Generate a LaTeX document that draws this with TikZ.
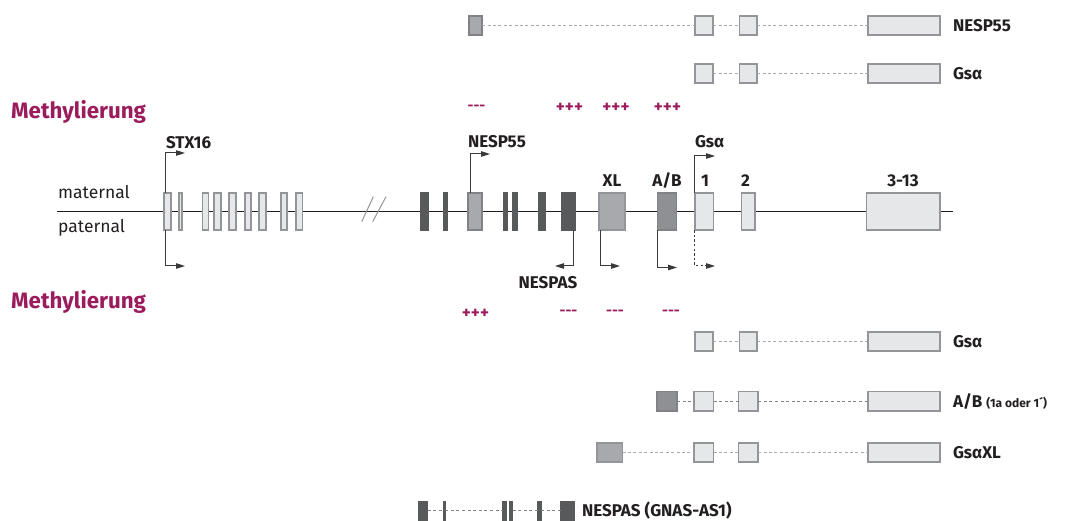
\documentclass[tikz,border=0pt]{standalone}
\usepackage{fontspec}
\setmainfont{Fira Sans}
\usetikzlibrary{arrows.meta}
\definecolor{exlight}{HTML}{E6E7E8}
\definecolor{exedge}{HTML}{939598}
\definecolor{exmid}{HTML}{A7A9AC}
\definecolor{exmidedge}{HTML}{808285}
\definecolor{exab}{HTML}{8E9093}
\definecolor{exdark}{HTML}{58595B}
\definecolor{ink}{HTML}{231F20}
\definecolor{arrowink}{HTML}{3A3A3C}
\definecolor{meth}{HTML}{9B1C5C}
\definecolor{spliceA}{HTML}{A7A9AC}
\definecolor{spliceB}{HTML}{808285}
% exon box: style, name, left edge, right edge, centre y, height (outer edges)
\newcommand\exon[6]{\node[#1,minimum width={#4-#3-1.6},minimum height={#6-1.6}] (#2) at ({(#3+#4)/2},#5) {};}
\begin{document}
\begin{tikzpicture}[x=1pt,y=-1pt,
  exonbase/.style={inner sep=0pt,outer sep=0pt,line width=1.6pt},
  light/.style={exonbase,fill=exlight,draw=exedge},
  mid/.style={exonbase,fill=exmid,draw=exedge},
  midd/.style={exonbase,fill=exmid,draw=exmidedge},
  abx/.style={exonbase,fill=exab,draw=exmidedge},
  dark/.style={exonbase,fill=exdark,draw=exdark},
  mainline/.style={draw=ink,line width=1.4pt},
  prom/.style={draw=arrowink,line width=1pt,-{Triangle[length=9pt,width=5.5pt]}},
  promdot/.style={prom,dash pattern=on 2.4pt off 2.2pt},
  splice/.style={draw=spliceA,line width=1pt,dash pattern=on 3pt off 2.4pt},
  splicedark/.style={draw=spliceB,line width=0.9pt,dash pattern=on 3pt off 2.6pt},
  lbl/.style={inner sep=0pt,outer sep=0pt,text=ink,font=\fontsize{17}{20}\selectfont\bfseries},
  strand/.style={inner sep=0pt,text=ink,font=\fontsize{17.5}{20}\selectfont},
  methhead/.style={inner sep=0pt,text=meth,font=\fontsize{22.3}{26}\selectfont\bfseries},
  methplus/.style={inner sep=0pt,text=meth,font=\fontsize{17}{18}\selectfont\bfseries},
  methminus/.style={inner sep=0pt,text=meth,font=\fontsize{14.5}{16}\selectfont\bfseries},
]
\useasboundingbox (0,0) rectangle (1066,521);

% ---------- mature transcripts, maternal allele ----------
\exon{midd}{a1}{468}{483}{25.5}{21}
\exon{light}{a2}{694}{714}{25.5}{21}
\exon{light}{a3}{738.6}{758}{25.5}{21}
\exon{light}{a4}{867}{941}{25.5}{21}
\draw[splice] (a1.east) -- (a2.west);
\draw[splice] (a2.east) -- (a3.west);
\draw[splice] (a3.east) -- (a4.west);
\node[lbl,anchor=base west] (ta) at (953,31.5) {NESP55};

\exon{light}{b2}{694}{714}{73.5}{21}
\exon{light}{b3}{738.6}{758}{73.5}{21}
\exon{light}{b4}{867}{941}{73.5}{21}
\draw[splice] (b2.east) -- (b3.west);
\draw[splice] (b3.east) -- (b4.west);
\node[lbl,anchor=base west] (tb) at (953,79.5) {Gsα};

% ---------- methylation, maternal ----------
\node[methhead,anchor=base west] (mh1) at (11,118.5) {Methylierung};
\node[methminus] (m1) at (476.5,108) {-{}-{}-};
\node[methplus] (m2) at (569.5,108) {+++};
\node[methplus] (m3) at (616,108) {+++};
\node[methplus] (m4) at (667.5,108) {+++};

% ---------- genomic locus ----------
\coordinate (L) at (57,211.5);
\coordinate (R) at (953,211.5);
\draw[mainline] (L) -- (R);
\draw[draw=exedge,line width=1pt] (361.7,221.7) -- (373.3,196.7);
\draw[draw=exedge,line width=1pt] (372.7,221.7) -- (386,196.7);

\node[strand,anchor=base west] (mat) at (58,199) {maternal};
\node[strand,anchor=base west] (pat) at (58,233) {paternal};

% STX16 exons
\exon{light}{s1}{163.3}{171.7}{211.5}{39}
\exon{light}{s2}{178.3}{183}{211.5}{39}
\exon{light}{s3}{201.7}{209.3}{211.5}{39}
\exon{light}{s4}{213.3}{221.7}{211.5}{39}
\exon{light}{s5}{228.3}{236.7}{211.5}{39}
\exon{light}{s6}{244}{251.7}{211.5}{39}
\exon{light}{s7}{258.3}{266.7}{211.5}{39}
\exon{light}{s8}{280}{287.7}{211.5}{39}
\exon{light}{s9}{295}{303.3}{211.5}{39}

% NESPAS exons and NESP55
\exon{dark}{d1}{420}{429}{211.5}{39}
\exon{dark}{d2}{442.7}{448.3}{211.5}{39}
\exon{midd}{n55}{467.3}{482.7}{211.5}{39}
\exon{dark}{d3}{503.3}{508.3}{211.5}{39}
\exon{dark}{d4}{512.3}{517.7}{211.5}{39}
\exon{dark}{d5}{538.3}{546.3}{211.5}{39}
\exon{dark}{d6}{561}{575.7}{211.5}{39}

% XL, A/B and GNAS exons
\exon{mid}{xl}{598.3}{626}{211.5}{39}
\exon{abx}{ab}{656.7}{677.3}{211.5}{39}
\exon{light}{e1}{694}{714.3}{211.5}{39}
\exon{light}{e2}{740.7}{756}{211.5}{39}
\exon{light}{e3}{865.7}{940.7}{211.5}{39}

\node[lbl,anchor=base] (lxl) at (612,186.5) {XL};
\node[lbl,anchor=base] (lab) at (667,186.5) {A/B};
\node[lbl,anchor=base] (l1) at (705,186.5) {1};
\node[lbl,anchor=base] (l2) at (745.5,186.5) {2};
\node[lbl,anchor=base] (l313) at (903,186.5) {3-13};

% promoters, maternal (above)
\coordinate (pSTXm) at (185,153);
\coordinate (pNESP) at (490,154);
\coordinate (pGSm) at (715,156);
\draw[prom] ([xshift=-1.8pt]s1.north) |- (pSTXm);
\draw[prom] ([xshift=-5pt]n55.north) |- (pNESP);
\draw[prom] ([xshift=-9.2pt]e1.north) |- (pGSm);
\node[lbl,anchor=base west] (lstx) at (166,148.3) {STX16};
\node[lbl,anchor=base west] (lnesp) at (468,147.3) {NESP55};
\node[lbl,anchor=base west] (lgs) at (695,148) {Gsα};

% promoters, paternal (below)
\coordinate (pSTXp) at (185,266);
\coordinate (pAS) at (555,266);
\coordinate (pXL) at (620,266);
\coordinate (pAB) at (677,267.5);
\coordinate (pGSp) at (715,266);
\draw[prom] ([xshift=-1.8pt]s1.south) |- (pSTXp);
\draw[prom] ([xshift=5.6pt]d6.south) |- (pAS);
\draw[prom] ([xshift=-11.5pt]xl.south) |- (pXL);
\draw[prom] ([xshift=-9.7pt]ab.south) |- (pAB);
\draw[promdot] ([xshift=-9.2pt]e1.south) |- (pGSp);
\node[lbl,anchor=base] (lnespas) at (548,288.5) {NESPAS};

% ---------- methylation, paternal ----------
\node[methhead,anchor=base west] (mh2) at (11,309) {Methylierung};
\node[methplus] (m5) at (475.5,313.5) {+++};
\node[methminus] (m6) at (568.5,313) {-{}-{}-};
\node[methminus] (m7) at (615,313) {-{}-{}-};
\node[methminus] (m8) at (671,313) {-{}-{}-};

% ---------- mature transcripts, paternal allele ----------
\exon{light}{c2}{694}{714}{341.5}{21}
\exon{light}{c3}{738.6}{758}{341.5}{21}
\exon{light}{c4}{867}{941}{341.5}{21}
\draw[splice] (c2.east) -- (c3.west);
\draw[splice] (c3.east) -- (c4.west);
\node[lbl,anchor=base west] (tc) at (953,347.5) {Gsα};

\exon{abx}{f1}{656}{677.7}{401}{21}
\exon{light}{f2}{693.3}{714.3}{401}{21}
\exon{light}{f3}{737.7}{759}{401}{21}
\exon{light}{f4}{867}{941}{401}{21}
\draw[splicedark] (f1.east) -- (f2.west);
\draw[splicedark] (f2.east) -- (f3.west);
\draw[splicedark] (f3.east) -- (f4.west);
\node[lbl,anchor=base west] (tf) at (953,407) {A/B {\fontsize{12}{14}\selectfont(1a oder 1´)}};

\exon{mid}{g1}{596}{623.3}{452.5}{21}
\exon{light}{g2}{693.3}{714.3}{452.5}{21}
\exon{light}{g3}{737.7}{759}{452.5}{21}
\exon{light}{g4}{867}{941}{452.5}{21}
\draw[splice] (g1.east) -- (g2.west);
\draw[splice] (g2.east) -- (g3.west);
\draw[splice] (g3.east) -- (g4.west);
\node[lbl,anchor=base west] (tg) at (953,458.5) {GsαXL};

% antisense transcript
\exon{dark}{h1}{418.3}{428.3}{510.5}{20}
\exon{dark}{h2}{443.3}{446}{510.5}{20}
\exon{dark}{h3}{501.7}{506.7}{510.5}{20}
\exon{dark}{h4}{509.3}{513.3}{510.5}{20}
\exon{dark}{h5}{537.3}{542}{510.5}{20}
\exon{dark}{h6}{560}{575}{510.5}{20}
\draw[splicedark] (h1.east) -- (h2.west);
\draw[splicedark] (h2.east) -- (h3.west);
\draw[splicedark] (h4.east) -- (h5.west);
\draw[splicedark] (h5.east) -- (h6.west);
\node[lbl,anchor=base west] (th) at (582,516) {NESPAS (GNAS-AS1)};
\end{tikzpicture}
\end{document}
